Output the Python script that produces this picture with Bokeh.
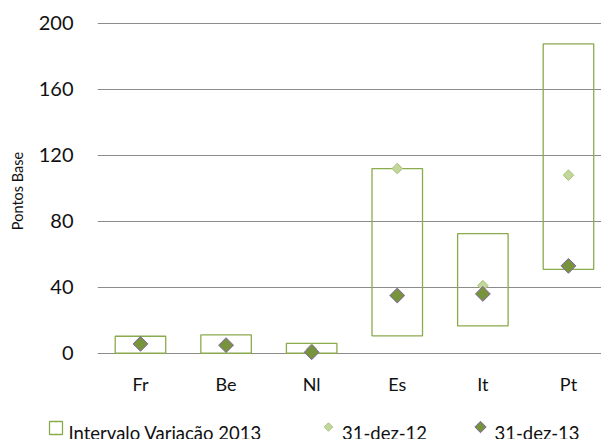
import numpy as np
from bokeh.plotting import figure
from bokeh.models import FixedTicker, ColumnDataSource
from bokeh.core.properties import value
from bokeh.embed import file_html
from bokeh.resources import INLINE

# ---- data ----
categories = ["Fr", "Be", "Nl", "Es", "It", "Pt"]
range_low = [0.0, 0.0, 0.0, 10.6, 16.6, 50.9]
range_high = [10.3, 11.2, 6.0, 112.0, 72.6, 187.6]
dez12 = [6.0, 5.0, 2.5, 112.0, 41.0, 108.0]
dez13 = [5.7, 4.9, 0.6, 35.0, 36.0, 53.0]
y_ticks = [0, 40, 80, 120, 160, 200]
legend_labels = ["Intervalo Variação 2013", "31-dez-12", "31-dez-13"]
y_title = "Pontos Base"

FONT = "Lato"
BOX_COLOR = "#8AAA4E"
DARK_FILL = "#77933C"
DARK_LINE = "#8064A2"
LIGHT_FILL = "#C3D69B"
LIGHT_LINE = "#A9C47A"
GRID = "#8C8C8C"

xs = list(range(len(categories)))
src = ColumnDataSource(dict(x=xs, lo=range_low, hi=range_high, d12=dez12, d13=dez13))

p = figure(width=601, height=400, x_range=(-0.502, 5.386), y_range=(-5, 201.8),
           output_backend="svg", toolbar_location=None,
           min_border_left=97, min_border_right=0, min_border_top=20, min_border_bottom=39)
p.outline_line_color = None
p.background_fill_color = "white"
p.border_fill_color = "white"

# boxes
p.vbar(x="x", bottom="lo", top="hi", width=0.59, source=src,
       fill_color=None, line_color=BOX_COLOR, line_width=1.3)
# markers
p.scatter(x="x", y="d12", source=src, marker="square", angle=np.pi / 4, size=7.5,
          fill_color=LIGHT_FILL, line_color=LIGHT_LINE, line_width=1)
p.scatter(x="x", y="d13", source=src, marker="square", angle=np.pi / 4, size=10.5,
          fill_color=DARK_FILL, line_color=DARK_LINE, line_width=1)

# axes
p.xgrid.grid_line_color = None
p.ygrid.ticker = FixedTicker(ticks=y_ticks)
p.ygrid.grid_line_color = GRID
p.ygrid.grid_line_width = 1

p.yaxis.ticker = FixedTicker(ticks=y_ticks)
p.yaxis.axis_line_color = None
p.yaxis.major_tick_line_color = None
p.yaxis.minor_tick_line_color = None
p.yaxis.major_tick_out = 0
p.yaxis.major_tick_in = 0
p.yaxis.major_label_standoff = 24
p.yaxis.major_label_text_font = FONT
p.yaxis.major_label_text_font_size = "20px"
p.yaxis.major_label_text_color = "#111111"
p.yaxis.axis_label = y_title
p.yaxis.axis_label_text_font = FONT
p.yaxis.axis_label_text_font_size = "14.5px"
p.yaxis.axis_label_text_font_style = "normal"
p.yaxis.axis_label_text_color = "#111111"
p.yaxis.axis_label_standoff = 10

p.xaxis.ticker = FixedTicker(ticks=xs)
p.xaxis.major_label_overrides = {i: c for i, c in enumerate(categories)}
p.xaxis.axis_line_color = None
p.xaxis.major_tick_line_color = None
p.xaxis.minor_tick_line_color = None
p.xaxis.major_tick_out = 0
p.xaxis.major_tick_in = 0
p.xaxis.major_label_standoff = 11
p.xaxis.major_label_text_font = FONT
p.xaxis.major_label_text_font_size = "18px"
p.xaxis.major_label_text_color = "#111111"

# ---- legend strip (separate root, so its frame is not aligned to the plot's) ----
lg = figure(width=601, height=39, x_range=(0, 601), y_range=(0, 39),
            output_backend="svg", toolbar_location=None,
            min_border=0, min_border_left=0, min_border_right=0,
            min_border_top=0, min_border_bottom=0)
lg.axis.visible = False
lg.grid.visible = False
lg.outline_line_color = None
lg.rect(x=[55.5], y=[11.5], width=13, height=13, fill_color=None,
        line_color=BOX_COLOR, line_width=1.3)
lg.scatter(x=[328], y=[12.5], marker="square", angle=np.pi / 4, size=6,
           fill_color=LIGHT_FILL, line_color=LIGHT_LINE, line_width=1)
lg.scatter(x=[480], y=[12.5], marker="square", angle=np.pi / 4, size=8,
           fill_color=DARK_FILL, line_color=DARK_LINE, line_width=1)
lg.text(x=[68, 341.5, 494], y=[6.5, 6.5, 6.5], text=legend_labels,
        text_font=value(FONT), text_font_size="18.5px", text_color="#111111",
        text_baseline="alphabetic", text_align="left")

open("out.html", "w").write(file_html([p, lg], INLINE))
